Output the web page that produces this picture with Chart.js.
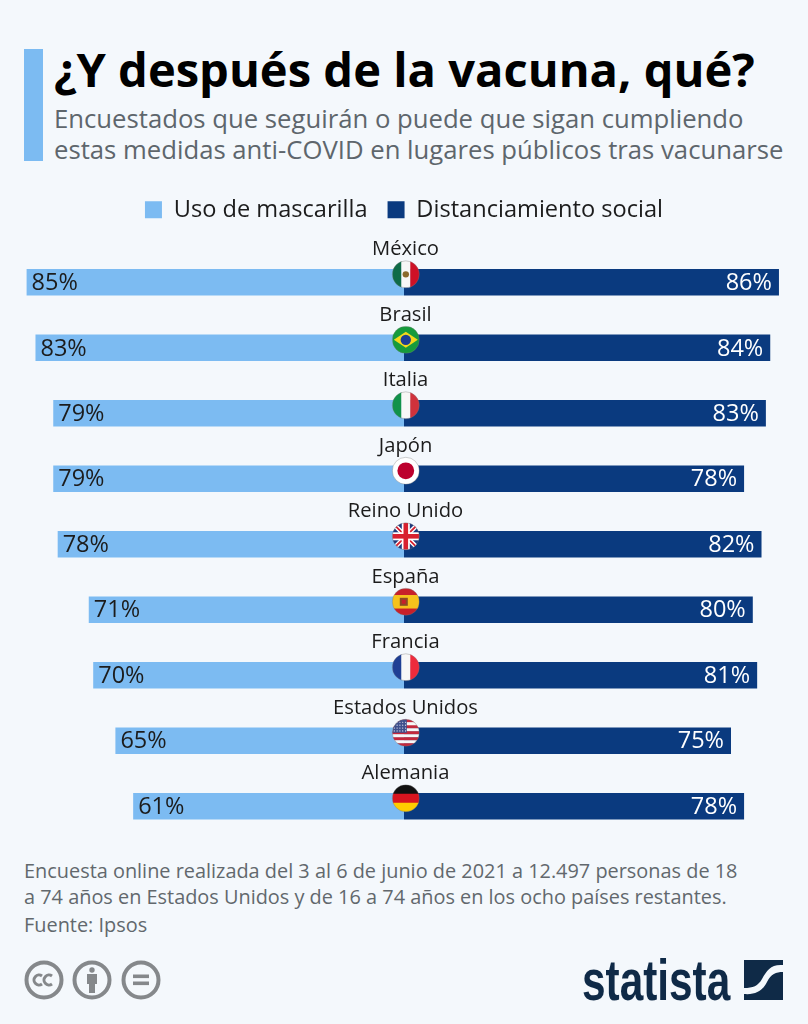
<!DOCTYPE html>
<html lang="es">
<head>
<meta charset="utf-8">
<title>¿Y después de la vacuna, qué?</title>
<script src="https://cdn.jsdelivr.net/npm/chart.js@4/dist/chart.umd.min.js"></script>
<style>
html, body { margin: 0; padding: 0; background: #f4f8fc; }
#page { position: relative; width: 808px; height: 1024px; overflow: hidden; font-family: "Open Sans", sans-serif; }
#page div { position: absolute; white-space: nowrap; }
#accent { left: 24px; top: 49px; width: 19px; height: 112px; background: #7cbbf2; }
#title { left: 54px; top: 37px; font-size: 47.1px; line-height: 64px; font-weight: 700; color: #000; }
.sub { left: 54px; font-size: 25.7px; line-height: 32px; color: #5e666c; }
.foot { left: 24px; font-size: 19.9px; line-height: 26px; color: #62686d; }
#chartBox { left: 0; top: 175px; width: 808px; height: 665px; }
#logo { left: 582px; top: 947px; font-family: "Liberation Sans", sans-serif; font-weight: 700; font-size: 58px; line-height: 66px; color: #0f2a47; transform: scaleX(0.73); transform-origin: left top; }
svg { position: absolute; }
</style>
</head>
<body>
<div id="page">
  <div id="accent"></div>
  <div id="title">¿Y después de la vacuna, qué?</div>
  <div class="sub" style="top:103px">Encuestados que seguirán o puede que sigan cumpliendo</div>
  <div class="sub" style="top:134px">estas medidas anti-COVID en lugares públicos tras vacunarse</div>
  <div id="chartBox"><canvas id="chart" width="808" height="665"></canvas></div>
  <div class="foot" style="top:858px">Encuesta online realizada del 3 al 6 de junio de 2021 a 12.497 personas de 18</div>
  <div class="foot" style="top:884px">a 74 años en Estados Unidos y de 16 a 74 años en los ocho países restantes.</div>
  <div class="foot" style="top:912px">Fuente: Ipsos</div>
  <svg style="left:24px;top:960px" width="140" height="40" viewBox="0 0 140 40">
    <g fill="none" stroke="#85888b" stroke-width="4">
      <circle cx="20" cy="20" r="17.5"/><circle cx="68" cy="20" r="17.5"/><circle cx="117" cy="20" r="17.5"/>
    </g>
    <g fill="none" stroke="#85888b" stroke-width="3">
      <path d="M18 16a5 5 0 1 0 0 8"/><path d="M28 16a5 5 0 1 0 0 8"/>
    </g>
    <g fill="#85888b">
      <circle cx="68" cy="10" r="2.7"/><rect x="63" y="14" width="10" height="10"/><rect x="65" y="24" width="6" height="9"/>
      <rect x="109" y="14.5" width="16" height="3.6"/><rect x="109" y="21.5" width="16" height="3.6"/>
    </g>
  </svg>
  <div id="logo">statista</div>
  <svg style="left:743px;top:960px" width="41" height="40" viewBox="0 0 41 40">
    <path fill="#0f2a47" d="M1 0H40V5C28 4 24 10 19 19C15 26 10 28 1 28Z"/>
    <path fill="#0f2a47" d="M40 12V40H1V34C14 35 20 30 24 22C28 14 33 12 40 12Z"/>
  </svg>
</div>
<script>
var categories = ['México', 'Brasil', 'Italia', 'Japón', 'Reino Unido', 'España', 'Francia', 'Estados Unidos', 'Alemania'];
var mascarilla = [85, 83, 79, 79, 78, 71, 70, 65, 61];
var distanciamiento = [86, 84, 83, 78, 82, 80, 81, 75, 78];

// the original draws each half at a slightly different scale
var leftRange = 404 / 4.44;
var rightRange = 404 / 4.36;

function stripesV(ctx, x, y, r, cols) {
    var w = 2 * r / cols.length;
    cols.forEach(function (c, i) { ctx.fillStyle = c; ctx.fillRect(x - r + i * w, y - r, w + 0.5, 2 * r); });
}
function stripesH(ctx, x, y, r, cols, shares) {
    var top = y - r;
    cols.forEach(function (c, i) {
        var h = 2 * r * shares[i];
        ctx.fillStyle = c; ctx.fillRect(x - r, top, 2 * r, h + 0.5);
        top += h;
    });
}
function dot(ctx, x, y, r, col) {
    ctx.fillStyle = col; ctx.beginPath(); ctx.arc(x, y, r, 0, Math.PI * 2); ctx.fill();
}
var flags = {
    'México': function (ctx, x, y, r) {
        stripesV(ctx, x, y, r, ['#0f6b48', '#f7f7f7', '#ce1126']);
        dot(ctx, x, y, 3.2, '#8a6a2c');
    },
    'Brasil': function (ctx, x, y, r) {
        ctx.fillStyle = '#169b3c'; ctx.fillRect(x - r, y - r, 2 * r, 2 * r);
        ctx.fillStyle = '#f4d81c'; ctx.beginPath();
        ctx.moveTo(x - 12, y); ctx.lineTo(x, y - 8); ctx.lineTo(x + 12, y); ctx.lineTo(x, y + 8); ctx.fill();
        dot(ctx, x, y, 5.2, '#1c3f94');
    },
    'Italia': function (ctx, x, y, r) { stripesV(ctx, x, y, r, ['#11924a', '#f7f7f7', '#d0323c']); },
    'Japón': function (ctx, x, y, r) {
        ctx.fillStyle = '#fff'; ctx.fillRect(x - r, y - r, 2 * r, 2 * r);
        dot(ctx, x, y, 8.4, '#bc002d');
    },
    'Reino Unido': function (ctx, x, y, r) {
        ctx.fillStyle = '#1f3a7d'; ctx.fillRect(x - r, y - r, 2 * r, 2 * r);
        ctx.strokeStyle = '#fff'; ctx.lineWidth = 4.5; ctx.beginPath();
        ctx.moveTo(x - r, y - r); ctx.lineTo(x + r, y + r); ctx.moveTo(x + r, y - r); ctx.lineTo(x - r, y + r); ctx.stroke();
        ctx.strokeStyle = '#d8202f'; ctx.lineWidth = 1.8; ctx.stroke();
        ctx.fillStyle = '#fff'; ctx.fillRect(x - 4, y - r, 8, 2 * r); ctx.fillRect(x - r, y - 4, 2 * r, 8);
        ctx.fillStyle = '#d8202f'; ctx.fillRect(x - 2.3, y - r, 4.6, 2 * r); ctx.fillRect(x - r, y - 2.3, 2 * r, 4.6);
    },
    'España': function (ctx, x, y, r) {
        stripesH(ctx, x, y, r, ['#c8202a', '#f6c21c', '#c8202a'], [0.25, 0.5, 0.25]);
        ctx.fillStyle = '#8b4a24'; ctx.fillRect(x - 6, y - 4, 8, 8);
        ctx.fillStyle = '#c8202a'; ctx.fillRect(x - 4, y - 2, 4, 4);
    },
    'Francia': function (ctx, x, y, r) { stripesV(ctx, x, y, r, ['#1f3f94', '#f7f7f7', '#ee2b3c']); },
    'Estados Unidos': function (ctx, x, y, r) {
        var n = 9, h = 2 * r / n, i, j;
        for (i = 0; i < n; i++) { ctx.fillStyle = i % 2 ? '#f7f7f7' : '#c4283c'; ctx.fillRect(x - r, y - r + i * h, 2 * r, h + 0.3); }
        ctx.fillStyle = '#3f4f8c'; ctx.fillRect(x - r, y - r, r + 1, r);
        for (i = 0; i < 4; i++) for (j = 0; j < 5; j++) dot(ctx, x - r + 2 + j * 2.8, y - r + 3 + i * 2.9, 0.6, '#e8e8f2');
    },
    'Alemania': function (ctx, x, y, r) {
        stripesH(ctx, x, y, r, ['#111', '#d8151f', '#fc0'], [1 / 3, 1 / 3, 1 / 3]);
    }
};

var rowLabels = {
    id: 'rowLabels',
    beforeInit: function (chart) {
        // extra room between the legend and the first row
        var fit = chart.legend.fit;
        chart.legend.fit = function () {
            fit.call(chart.legend);
            this.height += 18;
        };
    },
    afterDatasetsDraw: function (chart) {
        var ctx = chart.ctx, yScale = chart.scales.y, xL = chart.scales.xL, xR = chart.scales.xR;
        ctx.save();
        categories.forEach(function (name, i) {
            var y = yScale.getPixelForValue(i);
            ctx.textBaseline = 'middle';

            ctx.font = '20.2px "Open Sans"';
            ctx.fillStyle = '#1c1c1c';
            ctx.textAlign = 'center';
            ctx.fillText(name, 405.5, y - 33);

            ctx.font = '23.5px "Open Sans"';
            ctx.textAlign = 'left';
            ctx.fillText(mascarilla[i] + '%', xL.getPixelForValue(mascarilla[i]) + 5, y + 1);
            ctx.fillStyle = '#fff';
            ctx.textAlign = 'right';
            ctx.fillText(distanciamiento[i] + '%', xR.getPixelForValue(distanciamiento[i]) - 7, y + 1);

            // flag
            var fx = 405.8, fy = y - 8, fr = 13.5;
            ctx.save();
            ctx.beginPath(); ctx.arc(fx, fy, fr, 0, Math.PI * 2); ctx.clip();
            flags[name](ctx, fx, fy, fr);
            ctx.restore();
            ctx.strokeStyle = 'rgba(120,120,120,0.45)'; ctx.lineWidth = 0.8;
            ctx.beginPath(); ctx.arc(fx, fy, fr, 0, Math.PI * 2); ctx.stroke();
        });
        ctx.restore();
    }
};

new Chart(document.getElementById('chart'), {
    type: 'bar',
    data: {
        labels: categories,
        datasets: [
            { label: 'Uso de mascarilla', data: mascarilla, xAxisID: 'xL', backgroundColor: '#7cbbf2' },
            { label: 'Distanciamiento social', data: distanciamiento, xAxisID: 'xR', backgroundColor: '#0a3a7f' }
        ]
    },
    plugins: [rowLabels],
    options: {
        indexAxis: 'y',
        responsive: false,
        animation: false,
        layout: { padding: { top: 3, bottom: 1 } },
        datasets: { bar: { grouped: false, barPercentage: 1, categoryPercentage: 26.5 / 65.6 } },
        scales: {
            xL: { type: 'linear', reverse: true, min: -leftRange, max: leftRange, display: false },
            xR: { type: 'linear', min: -rightRange, max: rightRange, display: false },
            y: { display: false }
        },
        plugins: {
            tooltip: { enabled: false },
            legend: {
                position: 'top',
                labels: {
                    boxWidth: 17, boxHeight: 17, padding: 20, color: '#1c1c1c',
                    font: { family: '"Open Sans"', size: 23.6 }
                }
            }
        }
    }
});
</script>
</body>
</html>
